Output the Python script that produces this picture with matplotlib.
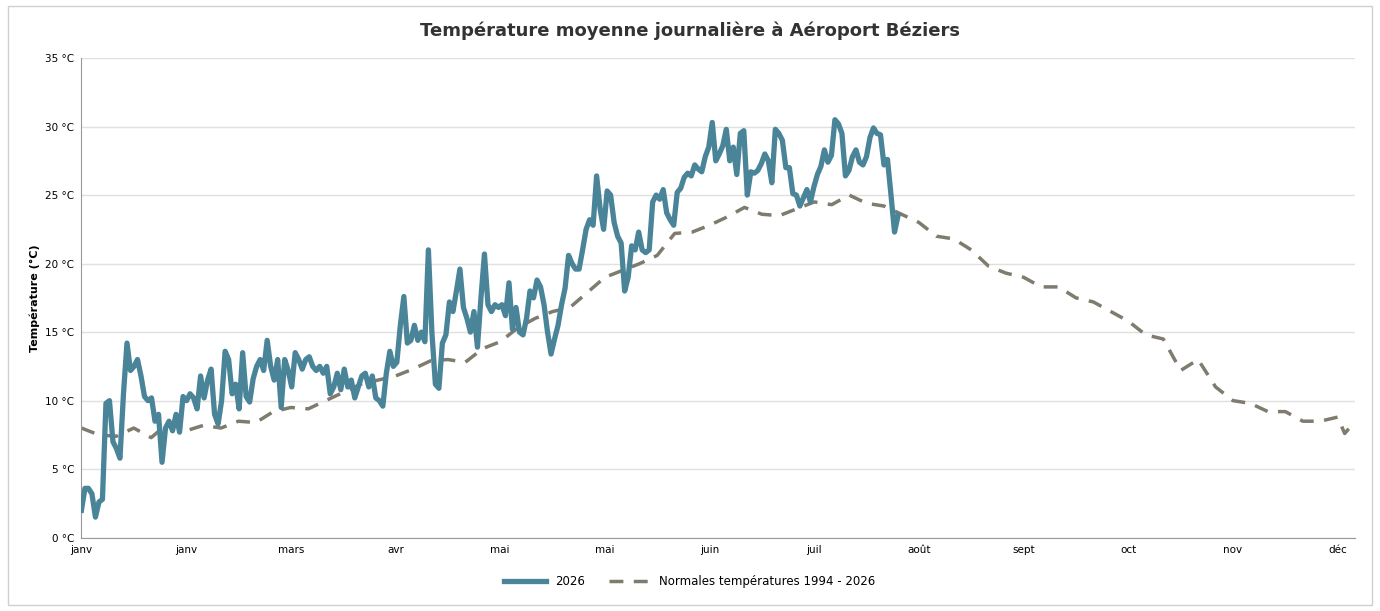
import numpy as np
import matplotlib.pyplot as plt
from matplotlib.patches import Rectangle

t2026 = [2, 3.6, 3.6, 3.2, 1.5, 2.6, 2.8, 9.8, 10, 7, 6.5, 5.8, 10.5, 14.2, 12.2, 12.5, 13.0, 11.8, 10.3,
         10.0, 10.2, 8.5, 9.0, 5.5, 8, 8.5, 7.8, 9, 7.7, 10.3, 10, 10.5, 10.2, 9.4, 11.8, 10.2, 11.5, 12.3, 9.0,
         8.3, 10.0, 13.6, 13.0, 10.5, 11.2, 9.4, 13.5, 10.3, 9.9, 11.6, 12.5, 13.0, 12.2, 14.4,
         12.5, 11.5, 13.0, 9.5, 13.0, 12.2, 11.0, 13.5, 13.0, 12.3, 13.0, 13.2, 12.5, 12.2, 12.5, 12.0, 12.5,
         10.5, 11.0, 12.0, 10.8, 12.3, 11.0, 11.5, 10.2, 11.0, 11.8, 12.0, 11.0, 11.8, 10.2, 10.0, 9.6,
         12.0, 13.6, 12.5, 12.8, 15.5, 17.6, 14.2, 14.4, 15.5, 14.4, 15.0, 14.3, 21.0,
         15.0, 11.2, 10.9, 14.2, 14.8, 17.2, 16.5, 18.0, 19.6, 16.8, 16.0, 15.0, 16.5, 13.9,
         17.5, 20.7, 17.0, 16.5, 17.0, 16.8, 17.0, 16.2, 18.6, 15.2, 16.8, 15.0, 14.8, 16.0, 18.0, 17.5,
         18.8, 18.3, 17.0, 15.0, 13.4, 14.5, 15.5, 17.0, 18.2, 20.6, 20.0, 19.6, 19.6, 21.0, 22.5, 23.2,
         22.8, 26.4, 24.0, 22.5, 25.3, 25.0, 23.0, 22.0, 21.5, 18.0, 19.0, 21.3, 21.0, 22.3, 21.0, 20.8, 21.0,
         24.5, 25.0, 24.7, 25.4, 23.7, 23.2, 22.8, 25.2, 25.5, 26.3, 26.6, 26.4, 27.2, 26.9, 26.7, 27.8,
         28.5, 30.3, 27.5, 28.0, 28.6, 29.8, 27.5, 28.5, 26.5, 29.5, 29.7, 25.0, 26.7, 26.6, 26.8, 27.3,
         28.0, 27.5, 25.9, 29.8, 29.5, 29.0, 27.0, 27.0, 25.1, 25.0, 24.2, 24.8, 25.4, 24.5, 25.6,
         26.5, 27.1, 28.3, 27.4, 27.9, 30.5, 30.2, 29.5, 26.4, 26.8, 27.8, 28.3, 27.4, 27.2, 27.8,
         29.2, 29.9, 29.5, 29.4, 27.2, 27.6, 25.0, 22.3, 23.5]

# normales : une valeur tous les 5 jours, puis fin d'année
jours_norm = list(range(0, 361, 5)) + [362, 365]
normales = [8.0, 7.5, 7.4, 8.0, 7.3, 8.4, 7.8, 8.2, 8.0, 8.5, 8.4, 9.2, 9.5, 9.4, 10.0, 10.6, 11.2, 11.5,
            11.8, 12.3, 12.9, 13.0, 12.8, 13.8, 14.3, 15.3, 16.0, 16.5, 16.8, 17.9, 19.0, 19.5, 20.0,
            20.6, 22.2, 22.3, 22.8, 23.4, 24.1, 23.6, 23.5, 24.0, 24.5, 24.3, 25.0, 24.4,
            24.2, 23.6, 23.0, 22.0, 21.8, 21.0, 19.8, 19.3, 19.0, 18.3, 18.3, 17.5, 17.2, 16.5,
            15.8, 14.8, 14.5, 12.2, 13.0, 11.0, 10.0, 9.8, 9.2, 9.2, 8.5, 8.5, 8.8, 7.6, 8.5]

jours_2026 = np.arange(len(t2026)) * 234 / (len(t2026) - 1)
tick_jours = np.arange(0, 361, 30)
tick_labels = ['janv', 'janv', 'mars', 'avr', 'mai', 'mai', 'juin', 'juil', 'août', 'sept', 'oct', 'nov', 'déc']

fig = plt.figure(figsize=(13.8, 6.11), dpi=100)
fig.patches.append(Rectangle((0.006, 0.01), 0.988, 0.98, transform=fig.transFigure,
                             fill=False, edgecolor='#d0d0d0', lw=1))
ax = fig.add_axes([0.059, 0.12, 0.923, 0.785])

ax.plot(jours_2026, t2026, color='#4a8499', lw=3.8, label='2026', zorder=3)
ax.plot(jours_norm, normales, color='#7f7b6e', lw=2.5, ls=(0, (4, 3)),
        label='Normales températures 1994 - 2026', zorder=2)

ax.set_xlim(0, 365)
ax.set_ylim(0, 35)
ax.set_yticks(range(0, 36, 5))
ax.set_yticklabels([f'{v} °C' for v in range(0, 36, 5)], fontsize=7.5)
ax.set_xticks(tick_jours)
ax.set_xticklabels(tick_labels, fontsize=7.5)
ax.tick_params(length=0, pad=5)
ax.grid(axis='y', color='#e0e0e0', lw=1)
ax.set_axisbelow(True)
for s in ['top', 'right']:
    ax.spines[s].set_visible(False)
ax.spines['left'].set_color('#999999')
ax.spines['bottom'].set_color('#999999')
ax.set_ylabel('Température (°C)', fontsize=8, fontweight='bold')

fig.suptitle('Température moyenne journalière à Aéroport Béziers', fontsize=13,
             fontweight='bold', color='#333333', y=0.965)
fig.legend(loc='lower center', ncol=2, frameon=False, fontsize=8.5,
           bbox_to_anchor=(0.5, 0.02), handlelength=3.5)

fig.savefig('out.png', dpi=100)
